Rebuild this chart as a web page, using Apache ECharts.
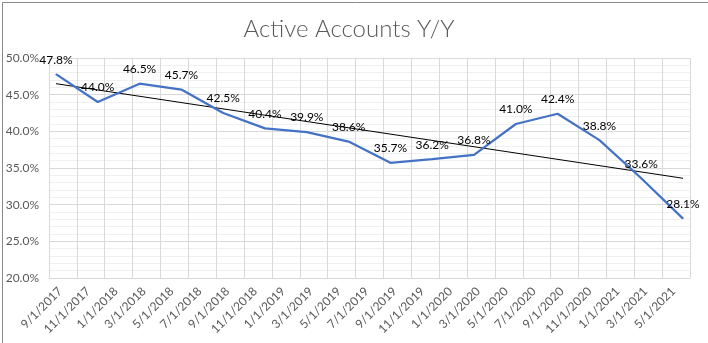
<!DOCTYPE html>
<html>
<head>
<meta charset="utf-8">
<script src="https://cdn.jsdelivr.net/npm/echarts@6/dist/echarts.min.js"></script>
<style>
html,body{margin:0;padding:0;background:#fff;}
#c{width:708px;height:343px;}
</style>
</head>
<body>
<div id="c"></div>
<script>
// Monthly category axis (Excel date axis, base unit = months)
const categories = [
  '9/1/2017','10/1/2017','11/1/2017','12/1/2017',
  '1/1/2018','2/1/2018','3/1/2018','4/1/2018','5/1/2018','6/1/2018','7/1/2018','8/1/2018','9/1/2018','10/1/2018','11/1/2018','12/1/2018',
  '1/1/2019','2/1/2019','3/1/2019','4/1/2019','5/1/2019','6/1/2019','7/1/2019','8/1/2019','9/1/2019','10/1/2019','11/1/2019','12/1/2019',
  '1/1/2020','2/1/2020','3/1/2020','4/1/2020','5/1/2020','6/1/2020','7/1/2020','8/1/2020','9/1/2020','10/1/2020','11/1/2020','12/1/2020',
  '1/1/2021','2/1/2021','3/1/2021','4/1/2021','5/1/2021','6/1/2021'
];
const pointDates = ['9/1/2017','12/1/2017','3/1/2018','6/1/2018','9/1/2018','12/1/2018','3/1/2019','6/1/2019',
  '9/1/2019','12/1/2019','3/1/2020','6/1/2020','9/1/2020','12/1/2020','3/1/2021','6/1/2021'];
const activeYoY = [47.8, 44.0, 46.5, 45.7, 42.5, 40.4, 39.9, 38.6, 35.7, 36.2, 36.8, 41.0, 42.4, 38.8, 33.6, 28.1];
const trendDates = ['9/1/2017','6/1/2021'];
const trendValues = [46.5, 33.6];
const yTicks = { min: 20, max: 50, step: 5 };

function toSeries(dates, vals) {
  const m = {};
  dates.forEach((d, i) => { m[d] = vals[i]; });
  return categories.map(c => (c in m ? m[c] : null));
}

const chart = echarts.init(document.getElementById('c'));
chart.setOption({
  animation: false,
  backgroundColor: '#fff',
  title: {
    text: 'Active Accounts Y/Y',
    left: 344, top: 12, textAlign: 'center',
    textStyle: { fontFamily: 'Lato', fontWeight: 300, fontSize: 24, color: '#595959' }
  },
  graphic: [{
    type: 'rect', left: 0, top: 0, silent: true,
    shape: { x: 0.5, y: 0.5, width: 707, height: 342 },
    style: { fill: 'none', stroke: '#898989', lineWidth: 1 }
  }],
  grid: { left: 49, right: 18, top: 58, bottom: 65 },
  xAxis: {
    type: 'category',
    data: categories,
    boundaryGap: true,
    axisLine: { show: true, lineStyle: { color: '#d9d9d9' } },
    axisTick: { show: false, interval: 1 },
    splitLine: { show: true, interval: 1, lineStyle: { color: '#d9d9d9', width: 1 } },
    axisLabel: {
      interval: 1, rotate: 45, margin: 7, verticalAlign: 'top',
      fontFamily: 'Lato', fontSize: 12, color: '#595959'
    }
  },
  yAxis: {
    type: 'value',
    min: yTicks.min, max: yTicks.max, interval: yTicks.step,
    axisLine: { show: false },
    axisTick: { show: false },
    minorTick: { show: false, splitNumber: 5 },
    minorSplitLine: { show: true, lineStyle: { color: '#f0f0f0', width: 1 } },
    splitLine: { show: true, lineStyle: { color: '#d9d9d9', width: 1 } },
    axisLabel: {
      margin: 10, fontFamily: 'Lato', fontSize: 12, color: '#595959',
      formatter: v => v.toFixed(1) + '%'
    }
  },
  series: [
    {
      type: 'line',
      data: toSeries(pointDates, activeYoY),
      connectNulls: true,
      symbol: 'circle',
      symbolSize: 1,
      showSymbol: true,
      lineStyle: { color: '#4472C4', width: 2.25 },
      itemStyle: { color: '#4472C4' },
      label: {
        show: true, position: 'top', distance: 8,
        fontFamily: 'Lato', fontSize: 12, color: '#000',
        formatter: p => (p.value == null ? '' : p.value.toFixed(1) + '%')
      },
      z: 3
    },
    {
      type: 'line',
      data: toSeries(trendDates, trendValues),
      connectNulls: true,
      symbol: 'none',
      lineStyle: { color: '#000', width: 1 },
      z: 2,
      silent: true
    }
  ]
});
</script>
</body>
</html>
